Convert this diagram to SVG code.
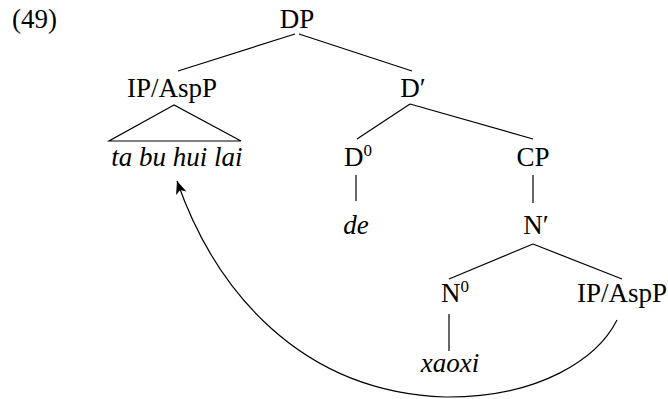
<svg xmlns="http://www.w3.org/2000/svg" width="668" height="399" viewBox="0 0 668 399">
<style>
text{font-family:"Liberation Serif","Times New Roman",serif;font-size:27px;fill:#000}
.m{text-anchor:middle}
.i{font-style:italic}
.sup{font-size:17px}
.e{stroke:#000;stroke-width:1.2;fill:none}
</style>
<defs>
<marker id="ah" markerUnits="userSpaceOnUse" markerWidth="16" markerHeight="16" viewBox="-14 -8 16 16" refX="0" refY="0" orient="auto">
<path d="M0,0 L-13,-5.5 L-9.5,0 L-13,5.5 Z" fill="#000"/>
</marker>
</defs>
<text x="12" y="28">(49)</text>
<g id="DP"><text class="m" x="297" y="28">DP</text></g>
<g id="IP1"><text class="m" x="172" y="97">IP/AspP</text></g>
<g id="Dbar"><text class="m" x="413" y="97">D′</text></g>
<g id="ta"><text class="m i" x="177" y="166">ta bu hui lai</text></g>
<g id="D0"><text x="344" y="166">D<tspan class="sup" dy="-10">0</tspan></text></g>
<g id="CP"><text class="m" x="533" y="166">CP</text></g>
<g id="de"><text class="m i" x="356" y="234">de</text></g>
<g id="Nbar"><text class="m" x="536" y="234">N′</text></g>
<g id="N0"><text x="441" y="302">N<tspan class="sup" dy="-10">0</tspan></text></g>
<g id="IP2"><text class="m" x="622" y="302">IP/AspP</text></g>
<g id="xaoxi"><text class="m i" x="450" y="372">xaoxi</text></g>
<g id="connectors">
<line class="e" x1="295" y1="34" x2="178" y2="71"/>
<line class="e" x1="299" y1="34" x2="412" y2="71"/>
<polygon class="e" points="174,105 109,141 241,141"/>
<line class="e" x1="410" y1="104" x2="357" y2="139"/>
<line class="e" x1="410" y1="104" x2="533" y2="139"/>
<line class="e" x1="356" y1="175" x2="356" y2="201"/>
<line class="e" x1="533" y1="175" x2="533" y2="203"/>
<line class="e" x1="533" y1="244" x2="449" y2="279"/>
<line class="e" x1="533" y1="244" x2="622" y2="279"/>
<line class="e" x1="449" y1="314" x2="449" y2="351"/>
<path class="e" d="M617,320 C598,358 540,398 445,397 C300,392 215,290 177,181" marker-end="url(#ah)"/>
</g>
</svg>
